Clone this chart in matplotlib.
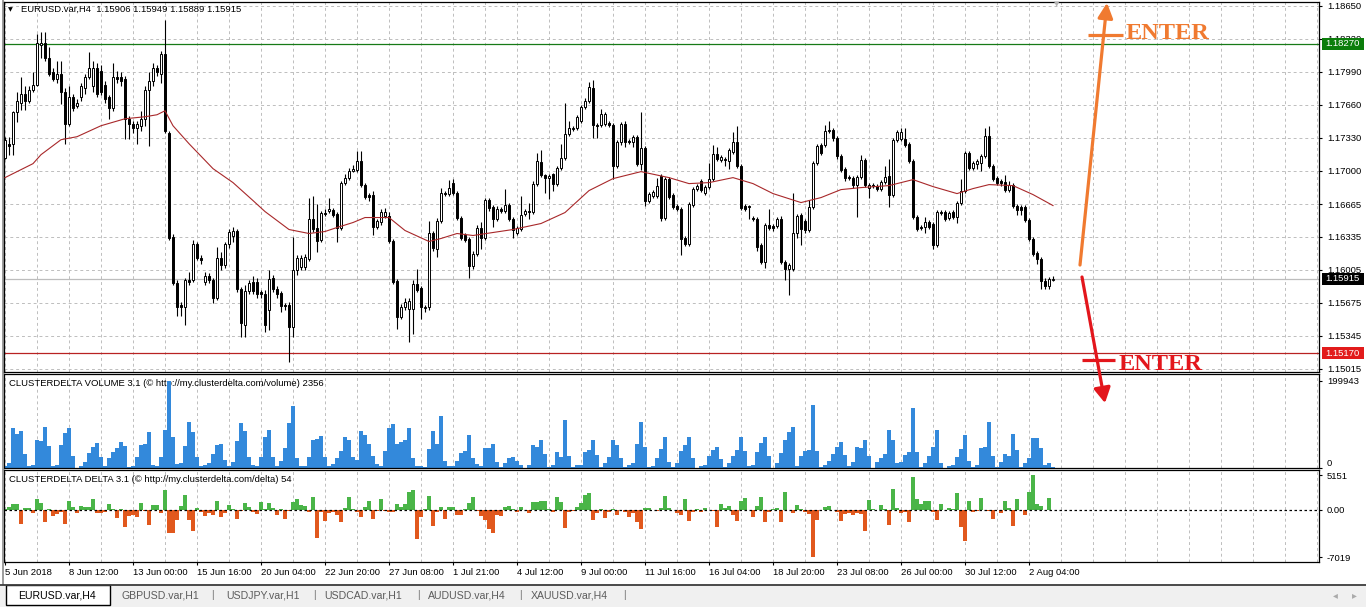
import matplotlib
matplotlib.use("Agg")
import matplotlib.pyplot as plt
from matplotlib.patches import Rectangle
from matplotlib.lines import Line2D
from matplotlib.transforms import blended_transform_factory

W, H = 1366, 607

# EURUSD H4 candles (bar 0 = 5 Jun 2018)
opens = [
    1.1713, 1.1727, 1.1727, 1.1759, 1.1768, 1.1777, 1.1770, 1.1781, 1.1786, 1.1826,
    1.1828, 1.1813, 1.1799, 1.1792, 1.1797, 1.1779, 1.1747, 1.1774, 1.1765, 1.1774,
    1.1783, 1.1794, 1.1785, 1.1803, 1.1800, 1.1786, 1.1774, 1.1763, 1.1794, 1.1794,
    1.1792, 1.1752, 1.1747, 1.1743, 1.1745, 1.1752, 1.1781, 1.1790, 1.1803, 1.1797,
    1.1817, 1.1738, 1.1633, 1.1587, 1.1565, 1.1563, 1.1590, 1.1590, 1.1626, 1.1612,
    1.1588, 1.1594, 1.1590, 1.1572, 1.1612, 1.1605, 1.1626, 1.1634, 1.1640, 1.1581,
    1.1545, 1.1579, 1.1588, 1.1588, 1.1578, 1.1576, 1.1560, 1.1592, 1.1581, 1.1577,
    1.1565, 1.1565, 1.1543, 1.1600, 1.1603, 1.1603, 1.1611, 1.1652, 1.1643, 1.1630,
    1.1658, 1.1660, 1.1661, 1.1657, 1.1643, 1.1688, 1.1693, 1.1700, 1.1701, 1.1710,
    1.1686, 1.1676, 1.1676, 1.1644, 1.1649, 1.1655, 1.1655, 1.1629, 1.1589, 1.1553,
    1.1563, 1.1561, 1.1561, 1.1586, 1.1582, 1.1562, 1.1563, 1.1637, 1.1621, 1.1650,
    1.1678, 1.1677, 1.1688, 1.1678, 1.1653, 1.1635, 1.1631, 1.1604, 1.1616, 1.1643,
    1.1632, 1.1671, 1.1664, 1.1652, 1.1662, 1.1660, 1.1666, 1.1652, 1.1638, 1.1642,
    1.1657, 1.1660, 1.1659, 1.1687, 1.1709, 1.1696, 1.1693, 1.1697, 1.1687, 1.1703,
    1.1713, 1.1737, 1.1742, 1.1743, 1.1750, 1.1764, 1.1770, 1.1783, 1.1746, 1.1746,
    1.1747, 1.1748, 1.1746, 1.1705, 1.1729, 1.1747, 1.1730, 1.1729, 1.1734, 1.1707,
    1.1723, 1.1670, 1.1675, 1.1675, 1.1695, 1.1653, 1.1692, 1.1676, 1.1665, 1.1662,
    1.1632, 1.1626, 1.1666, 1.1682, 1.1690, 1.1678, 1.1684, 1.1692, 1.1717, 1.1711,
    1.1712, 1.1710, 1.1719, 1.1729, 1.1705, 1.1665, 1.1665, 1.1653, 1.1652, 1.1625,
    1.1608, 1.1646, 1.1645, 1.1645, 1.1652, 1.1608, 1.1601, 1.1601, 1.1637, 1.1656,
    1.1650, 1.1641, 1.1664, 1.1708, 1.1726, 1.1726, 1.1740, 1.1741, 1.1733, 1.1715,
    1.1702, 1.1694, 1.1693, 1.1686, 1.1694, 1.1711, 1.1683, 1.1686, 1.1685, 1.1682,
    1.1689, 1.1695, 1.1676, 1.1731, 1.1732, 1.1732, 1.1727, 1.1710, 1.1654, 1.1644,
    1.1644, 1.1649, 1.1647, 1.1625, 1.1659, 1.1659, 1.1653, 1.1659, 1.1654, 1.1668,
    1.1680, 1.1718, 1.1703, 1.1707, 1.1708, 1.1715, 1.1735, 1.1705, 1.1693, 1.1690,
    1.1689, 1.1681, 1.1686, 1.1665, 1.1664, 1.1664, 1.1651, 1.1631, 1.1617, 1.1611,
    1.1589, 1.1584, 1.15906]

highs = [
    1.1734, 1.1734, 1.1760, 1.1779, 1.1794, 1.1785, 1.1785, 1.1799, 1.1837, 1.1839,
    1.1839, 1.1824, 1.1803, 1.1810, 1.1810, 1.1783, 1.1785, 1.1777, 1.1772, 1.1788,
    1.1797, 1.1819, 1.1810, 1.1808, 1.1806, 1.1790, 1.1776, 1.1808, 1.1800, 1.1799,
    1.1795, 1.1755, 1.1750, 1.1750, 1.1760, 1.1785, 1.1799, 1.1808, 1.1806, 1.1820,
    1.1851, 1.1740, 1.1636, 1.1590, 1.1568, 1.1592, 1.1598, 1.1630, 1.1628, 1.1615,
    1.1598, 1.1597, 1.1592, 1.1623, 1.1618, 1.1628, 1.1642, 1.1644, 1.1642, 1.1583,
    1.1585, 1.1590, 1.1594, 1.1592, 1.1580, 1.1580, 1.1600, 1.1595, 1.1584, 1.1579,
    1.1567, 1.1568, 1.1633, 1.1615, 1.1615, 1.1616, 1.1673, 1.1675, 1.1667, 1.1660,
    1.1662, 1.1673, 1.1663, 1.1659, 1.1690, 1.1697, 1.1703, 1.1706, 1.1720, 1.1720,
    1.1688, 1.1678, 1.1680, 1.1652, 1.1662, 1.1663, 1.1659, 1.1631, 1.1591, 1.1566,
    1.1572, 1.1572, 1.1590, 1.1601, 1.1584, 1.1565, 1.1650, 1.1640, 1.1653, 1.1683,
    1.1680, 1.1691, 1.1692, 1.1680, 1.1655, 1.1637, 1.1633, 1.1619, 1.1646, 1.1649,
    1.1673, 1.1673, 1.1666, 1.1665, 1.1664, 1.1682, 1.1668, 1.1654, 1.1645, 1.1675,
    1.1662, 1.1668, 1.1690, 1.1718, 1.1721, 1.1697, 1.1697, 1.1698, 1.1705, 1.1727,
    1.1768, 1.1750, 1.1745, 1.1756, 1.1766, 1.1773, 1.1789, 1.1791, 1.1748, 1.1762,
    1.1759, 1.1750, 1.1748, 1.1731, 1.1749, 1.1750, 1.1732, 1.1736, 1.1736, 1.1759,
    1.1725, 1.1679, 1.1681, 1.1693, 1.1697, 1.1694, 1.1694, 1.1678, 1.1667, 1.1664,
    1.1634, 1.1669, 1.1684, 1.1687, 1.1692, 1.1686, 1.1708, 1.1726, 1.1724, 1.1716,
    1.1714, 1.1723, 1.1739, 1.1745, 1.1707, 1.1667, 1.1666, 1.1655, 1.1654, 1.1627,
    1.1648, 1.1662, 1.1647, 1.1654, 1.1655, 1.1610, 1.1607, 1.1678, 1.1657, 1.1658,
    1.1652, 1.1671, 1.1710, 1.1727, 1.1728, 1.1746, 1.1750, 1.1743, 1.1735, 1.1717,
    1.1704, 1.1696, 1.1695, 1.1696, 1.1716, 1.1713, 1.1688, 1.1688, 1.1687, 1.1691,
    1.1705, 1.1712, 1.1733, 1.1741, 1.1743, 1.1743, 1.1729, 1.1712, 1.1656, 1.1646,
    1.1654, 1.1651, 1.1649, 1.1661, 1.1661, 1.1661, 1.1660, 1.1661, 1.1670, 1.1692,
    1.1720, 1.1720, 1.1710, 1.1712, 1.1717, 1.1743, 1.1745, 1.1707, 1.1695, 1.1692,
    1.1696, 1.1690, 1.1688, 1.1667, 1.1666, 1.1666, 1.1653, 1.1633, 1.1619, 1.1613,
    1.1592, 1.1593, 1.15949]

lows = [
    1.1712, 1.1716, 1.1716, 1.1749, 1.1761, 1.1761, 1.1768, 1.1779, 1.1785, 1.1813,
    1.1810, 1.1795, 1.1790, 1.1788, 1.1767, 1.1727, 1.1745, 1.1760, 1.1763, 1.1770,
    1.1777, 1.1792, 1.1779, 1.1774, 1.1776, 1.1768, 1.1752, 1.1760, 1.1788, 1.1785,
    1.1732, 1.1732, 1.1738, 1.1727, 1.1740, 1.1745, 1.1725, 1.1785, 1.1795, 1.1788,
    1.1738, 1.1630, 1.1585, 1.1554, 1.1554, 1.1545, 1.1585, 1.1588, 1.1610, 1.1606,
    1.1585, 1.1587, 1.1567, 1.1570, 1.1600, 1.1602, 1.1622, 1.1628, 1.1578, 1.1533,
    1.1533, 1.1576, 1.1576, 1.1572, 1.1572, 1.1538, 1.1540, 1.1578, 1.1572, 1.1558,
    1.1560, 1.1508, 1.1533, 1.1595, 1.1600, 1.1600, 1.1609, 1.1639, 1.1618, 1.1628,
    1.1655, 1.1658, 1.1654, 1.1628, 1.1641, 1.1686, 1.1691, 1.1699, 1.1699, 1.1684,
    1.1672, 1.1670, 1.1635, 1.1642, 1.1646, 1.1653, 1.1627, 1.1586, 1.1541, 1.1551,
    1.1560, 1.1528, 1.1536, 1.1578, 1.1551, 1.1558, 1.1560, 1.1619, 1.1613, 1.1648,
    1.1675, 1.1675, 1.1676, 1.1651, 1.1630, 1.1628, 1.1592, 1.1601, 1.1614, 1.1621,
    1.1630, 1.1660, 1.1644, 1.1650, 1.1658, 1.1658, 1.1650, 1.1632, 1.1635, 1.1640,
    1.1655, 1.1652, 1.1657, 1.1685, 1.1694, 1.1678, 1.1672, 1.1680, 1.1685, 1.1701,
    1.1711, 1.1735, 1.1740, 1.1741, 1.1748, 1.1762, 1.1768, 1.1733, 1.1733, 1.1744,
    1.1745, 1.1744, 1.1692, 1.1703, 1.1726, 1.1724, 1.1727, 1.1724, 1.1705, 1.1701,
    1.1665, 1.1668, 1.1673, 1.1673, 1.1650, 1.1651, 1.1672, 1.1662, 1.1660, 1.1615,
    1.1624, 1.1624, 1.1664, 1.1680, 1.1679, 1.1676, 1.1682, 1.1690, 1.1710, 1.1709,
    1.1705, 1.1702, 1.1717, 1.1703, 1.1661, 1.1660, 1.1652, 1.1650, 1.1619, 1.1606,
    1.1602, 1.1641, 1.1640, 1.1643, 1.1606, 1.1590, 1.1575, 1.1599, 1.1632, 1.1625,
    1.1638, 1.1639, 1.1662, 1.1706, 1.1716, 1.1724, 1.1738, 1.1730, 1.1712, 1.1699,
    1.1690, 1.1691, 1.1683, 1.1654, 1.1692, 1.1684, 1.1673, 1.1683, 1.1680, 1.1680,
    1.1687, 1.1664, 1.1674, 1.1729, 1.1730, 1.1724, 1.1708, 1.1652, 1.1640, 1.1641,
    1.1638, 1.1642, 1.1621, 1.1623, 1.1656, 1.1650, 1.1651, 1.1652, 1.1648, 1.1666,
    1.1678, 1.1701, 1.1701, 1.1702, 1.1700, 1.1713, 1.1703, 1.1690, 1.1686, 1.1685,
    1.1679, 1.1679, 1.1663, 1.1656, 1.1656, 1.1649, 1.1629, 1.1614, 1.1606, 1.1581,
    1.1581, 1.1581, 1.15889]

closes = [
    1.1731, 1.1725, 1.1759, 1.1770, 1.1777, 1.1770, 1.1781, 1.1786, 1.1828, 1.1828,
    1.1813, 1.1797, 1.1792, 1.1797, 1.1779, 1.1747, 1.1774, 1.1763, 1.1768, 1.1785,
    1.1794, 1.1803, 1.1803, 1.1777, 1.1779, 1.1772, 1.1763, 1.1794, 1.1792, 1.1790,
    1.1752, 1.1747, 1.1743, 1.1747, 1.1752, 1.1781, 1.1790, 1.1803, 1.1799, 1.1817,
    1.1740, 1.1632, 1.1587, 1.1563, 1.1563, 1.1590, 1.1588, 1.1626, 1.1612, 1.1610,
    1.1594, 1.1590, 1.1572, 1.1612, 1.1605, 1.1626, 1.1639, 1.1640, 1.1581, 1.1547,
    1.1579, 1.1587, 1.1579, 1.1576, 1.1576, 1.1545, 1.1591, 1.1581, 1.1576, 1.1564,
    1.1564, 1.1543, 1.1600, 1.1612, 1.1612, 1.1613, 1.1652, 1.1642, 1.1629, 1.1658,
    1.1657, 1.1662, 1.1656, 1.1643, 1.1688, 1.1693, 1.1700, 1.1702, 1.1710, 1.1686,
    1.1674, 1.1674, 1.1644, 1.1650, 1.1659, 1.1659, 1.1629, 1.1588, 1.1553, 1.1563,
    1.1568, 1.1569, 1.1586, 1.1580, 1.1563, 1.1563, 1.1637, 1.1622, 1.1650, 1.1678,
    1.1677, 1.1683, 1.1678, 1.1653, 1.1632, 1.1630, 1.1604, 1.1616, 1.1643, 1.1632,
    1.1671, 1.1663, 1.1652, 1.1662, 1.1660, 1.1666, 1.1652, 1.1641, 1.1643, 1.1656,
    1.1660, 1.1659, 1.1687, 1.1710, 1.1696, 1.1693, 1.1695, 1.1687, 1.1703, 1.1713,
    1.1737, 1.1743, 1.1743, 1.1754, 1.1764, 1.1770, 1.1784, 1.1746, 1.1745, 1.1757,
    1.1757, 1.1746, 1.1705, 1.1729, 1.1747, 1.1729, 1.1729, 1.1734, 1.1707, 1.1723,
    1.1670, 1.1677, 1.1679, 1.1685, 1.1653, 1.1692, 1.1674, 1.1664, 1.1662, 1.1631,
    1.1626, 1.1667, 1.1682, 1.1685, 1.1681, 1.1684, 1.1692, 1.1717, 1.1712, 1.1714,
    1.1711, 1.1721, 1.1729, 1.1705, 1.1663, 1.1662, 1.1664, 1.1652, 1.1623, 1.1608,
    1.1646, 1.1643, 1.1643, 1.1652, 1.1608, 1.1601, 1.1605, 1.1637, 1.1655, 1.1642,
    1.1641, 1.1664, 1.1708, 1.1725, 1.1718, 1.1740, 1.1741, 1.1733, 1.1715, 1.1701,
    1.1693, 1.1693, 1.1686, 1.1694, 1.1711, 1.1686, 1.1686, 1.1685, 1.1682, 1.1689,
    1.1694, 1.1676, 1.1731, 1.1739, 1.1739, 1.1726, 1.1710, 1.1654, 1.1642, 1.1643,
    1.1649, 1.1644, 1.1625, 1.1659, 1.1658, 1.1652, 1.1658, 1.1654, 1.1668, 1.1680,
    1.1718, 1.1703, 1.1708, 1.1710, 1.1715, 1.1735, 1.1705, 1.1692, 1.1688, 1.1688,
    1.1681, 1.1686, 1.1665, 1.1661, 1.1661, 1.1651, 1.1631, 1.1616, 1.1611, 1.1589,
    1.1584, 1.1591, 1.15915]

# CLUSTERDELTA VOLUME per bar
volumes = [
    5000, 11500, 92000, 77000, 85000, 32000, 4000, 8000, 64000, 62000,
    94000, 50000, 4000, 8000, 52000, 80000, 91000, 27000, 1000, 4000,
    13000, 35000, 48000, 57000, 25000, 4000, 22000, 36000, 45000, 59000,
    50000, 3000, 5000, 25000, 52000, 55000, 82000, 8000, 5000, 25000,
    87000, 199943, 72000, 9000, 11000, 50000, 105000, 82000, 25000, 4000,
    6000, 12000, 31000, 53000, 54000, 19000, 4000, 14000, 62000, 103000,
    85000, 25000, 6000, 4000, 25000, 71000, 87000, 25000, 4000, 15000,
    46000, 102000, 141000, 23000, 4000, 5000, 25000, 64000, 67000, 73000,
    25000, 5000, 9000, 22000, 38000, 71000, 63000, 25000, 18000, 85000,
    75000, 55000, 27000, 9000, 4000, 38000, 91000, 100000, 54000, 59000,
    64000, 92000, 22000, 5000, 4000, 2000, 44000, 85000, 54000, 119000,
    15000, 4000, 4000, 15000, 35000, 40000, 75000, 22000, 9000, 4000,
    46000, 46000, 55000, 14000, 3000, 11000, 24000, 25000, 16000, 7000,
    1000, 8000, 53000, 49000, 63000, 32000, 3000, 8000, 37000, 25000,
    109000, 28000, 3000, 6000, 8000, 36000, 42000, 65000, 30000, 2000,
    11000, 25000, 63000, 53000, 24000, 3000, 8000, 11000, 55000, 105000,
    47000, 3000, 5000, 24000, 43000, 72000, 14000, 3000, 11000, 39000,
    53000, 72000, 22000, 1000, 5000, 6000, 28000, 42000, 49000, 20000,
    3000, 11000, 28000, 42000, 72000, 39000, 5000, 8000, 36000, 57000,
    72000, 28000, 1000, 11000, 34000, 63000, 82000, 93000, 5000, 28000,
    39000, 42000, 144000, 39000, 3000, 8000, 16000, 33000, 47000, 59000,
    30000, 5000, 14000, 49000, 45000, 65000, 28000, 1000, 14000, 24000,
    32000, 88000, 63000, 12000, 14000, 30000, 37000, 137000, 37000, 3000,
    11000, 28000, 47000, 88000, 11000, 1000, 5000, 8000, 26000, 43000,
    76000, 16000, 2000, 8000, 45000, 47000, 105000, 28000, 3000, 14000,
    32000, 28000, 78000, 42000, 2000, 11000, 22000, 68000, 68000, 45000,
    8000, 11000, 2356]

# CLUSTERDELTA DELTA per bar
deltas = [
    200, 500, 900, 950, -2100, 250, 350, -500, 1600, 1000,
    -1800, 150, -900, -600, -250, -2100, 1400, 500, -400, 600,
    400, 400, 1600, -400, -500, -350, 900, 200, -1200, 100,
    -2600, -900, -800, -1000, 1000, -100, -2300, 800, 800, -400,
    3000, -3400, -3500, -1500, 600, 2300, -1500, -3100, 300, -250,
    -900, -500, -800, 1300, -1000, -500, 800, 100, -1300, -100,
    1100, 500, -250, -600, 1250, 150, 1000, 300, -800, 200,
    -1300, -200, 1200, 1600, 800, 600, -300, 2000, -4100, -300,
    -1600, -500, -300, -700, -1800, 300, 1900, 200, -300, -1000,
    400, 1300, -1300, -100, 1700, -200, -300, -300, 900, 500,
    900, 2700, 3000, -4300, -1000, 200, 2100, -2400, -250, 500,
    -1300, 500, 400, -800, -800, 100, 1100, 1900, -200, -900,
    -1500, -2800, -3500, -700, -900, 400, 650, 150, -350, 400,
    50, -500, 1170, 1200, 1300, 1400, 150, -350, 1900, 1170,
    -2700, -250, -150, 400, 1050, 2300, 2550, -1500, -500, 100,
    -1150, -250, 100, -750, 50, -350, -1000, -500, -1800, -2800,
    350, 250, 50, -150, 350, 2100, 350, 50, -500, -750,
    1600, -1700, -250, 100, -250, 250, 50, -150, -2550, 950,
    250, 650, -750, -1650, 1300, 1850, 50, -1000, 650, 2000,
    -1800, -250, 150, 350, -1800, 2750, 50, -500, 800, 150,
    -350, -650, -7019, -1500, 50, 400, 650, 50, -350, -1650,
    -650, -400, -750, -400, -650, -3200, 1500, 150, 50, 800,
    150, -2300, 3200, 350, -400, -250, -1800, 4950, 1600, 950,
    1300, 1300, -250, -1500, 950, 50, 250, 100, 2550, -2550,
    -4600, 1400, -250, -150, 1750, 50, -150, -1400, 50, -500,
    1300, 350, -2400, 1600, 50, -750, 2750, 5151, 950, 650,
    50, 1750, 54]

# moving average (bar index, value)
ma_bars = [0, 7, 9, 14, 18, 24, 30, 35, 38, 40,
           42, 46, 52, 57, 62, 65, 68, 71, 76, 80,
           83, 87, 90, 96, 100, 106, 109, 113, 117, 122,
           127, 134, 140, 146, 152, 159, 166, 171, 176, 182,
           187, 192, 199, 204, 209, 214, 221, 227, 232, 238,
           242, 246, 252, 257, 262]
ma_vals = [1.1693, 1.1707, 1.1716, 1.1731, 1.1734, 1.1745, 1.1752, 1.1754, 1.1756, 1.1760,
           1.1745, 1.1727, 1.1702, 1.1688, 1.1670, 1.1659, 1.1650, 1.1641, 1.1637, 1.1639,
           1.1643, 1.1648, 1.1653, 1.1653, 1.1640, 1.1629, 1.1632, 1.1637, 1.1635, 1.1638,
           1.1641, 1.1647, 1.1658, 1.1680, 1.1692, 1.1699, 1.1693, 1.1687, 1.1688, 1.1693,
           1.1687, 1.1677, 1.1668, 1.1673, 1.1681, 1.1683, 1.1685, 1.1691, 1.1684, 1.1677,
           1.1682, 1.1686, 1.1685, 1.1676, 1.1665]

price_ticks = [1.18650, 1.18320, 1.17990, 1.17660, 1.17330, 1.17000,
               1.16665, 1.16335, 1.16005, 1.15675, 1.15345, 1.15015]
time_bars = [0, 16, 32, 48, 64, 80, 96, 112, 128, 144, 160, 176, 192, 208, 224, 240, 256]
time_labels = ["5 Jun 2018", "8 Jun 12:00", "13 Jun 00:00", "15 Jun 16:00", "20 Jun 04:00",
               "22 Jun 20:00", "27 Jun 08:00", "1 Jul 21:00", "4 Jul 12:00", "9 Jul 00:00",
               "11 Jul 16:00", "16 Jul 04:00", "18 Jul 20:00", "23 Jul 08:00", "26 Jul 00:00",
               "30 Jul 12:00", "2 Aug 04:00"]
upper_level = 1.18270
lower_level = 1.15170
bid = 1.15915
tabs = ["EURUSD.var,H4", "GBPUSD.var,H1", "USDJPY.var,H1", "USDCAD.var,H1",
        "AUDUSD.var,H4", "XAUUSD.var,H4"]

assert len(opens) == len(highs) == len(lows) == len(closes) == len(volumes) == len(deltas)

plt.rcParams['font.family'] = ['Liberation Sans', 'DejaVu Sans']
FS = 6.8
GRID = dict(color='#bdbdbd', linestyle=(0, (3, 3)), linewidth=0.7)

fig = plt.figure(figsize=(W / 100, H / 100), dpi=100)
fig.patch.set_facecolor('white')


def fx(x):
    return x / W


def fy(y):
    return 1 - y / H


def px_axes(x0, y0, x1, y1):
    return fig.add_axes([x0 / W, 1 - y1 / H, (x1 - x0) / W, (y1 - y0) / H])


ax = px_axes(4, 2, 1319, 372)
axv = px_axes(4, 374, 1319, 468)
axd = px_axes(4, 470, 1319, 562)
ax.set_zorder(3)

for a in (ax, axv, axd):
    a.set_xlim(-0.25, 328.5)
    a.set_xticks(range(0, 329, 8), minor=True)
    a.grid(True, which='both', axis='x', **GRID)
    a.set_axisbelow(True)
    a.tick_params(axis='x', which='minor', length=0)
    for s in a.spines.values():
        s.set_linewidth(0.9)
        s.set_color('black')
    a.yaxis.tick_right()
    a.tick_params(axis='y', direction='out', length=2.2, width=0.8, pad=3.5,
                  labelsize=FS, right=True, left=False, labelright=True, labelleft=False)

for a in (ax, axv):
    a.set_xticks([])

idx = list(range(len(closes)))

# ---- main price panel ----
ax.set_ylim(1.14982, 1.18690)
ax.set_yticks(price_ticks)
ax.set_yticklabels([f"{t:.5f}" for t in price_ticks])
ax.grid(True, axis='y', **GRID)

ax.axhline(upper_level, color='#177a17', lw=0.9, zorder=2)
ax.axhline(lower_level, color='#b82222', lw=0.9, zorder=2)
ax.axhline(bid, color='#bdbdbd', lw=0.9, zorder=2)

ax.vlines(idx, lows, highs, color='black', linewidth=0.8, zorder=3)
body_bottom = [min(o, c) for o, c in zip(opens, closes)]
body_height = [abs(c - o) for o, c in zip(opens, closes)]
body_color = ['white' if c >= o else 'black' for o, c in zip(opens, closes)]
ax.bar(idx, body_height, bottom=body_bottom, width=0.58, color=body_color,
       edgecolor='black', linewidth=0.7, zorder=4)

ax.plot(ma_bars, ma_vals, color='#a8282a', lw=0.8, zorder=5)

ax.text(0.0126, 0.98, "EURUSD.var,H4  1.15906 1.15949 1.15889 1.15915",
        transform=ax.transAxes, fontsize=FS, va='center', ha='left', zorder=6)
ax.text(0.0032, 0.979, "\u25BC", transform=ax.transAxes, fontsize=4.5,
        family='DejaVu Sans', va='center', ha='left', zorder=6)

# price boxes on the right scale
trans = blended_transform_factory(ax.transAxes, ax.transData)
for price, colour in ((upper_level, '#0b7d0b'), (bid, '#000000'), (lower_level, '#e21b1b')):
    ax.add_patch(Rectangle((1.0023, price - 0.00058), 42 / 1315, 0.00116, transform=trans,
                           facecolor=colour, edgecolor='none', clip_on=False, zorder=10))
    ax.text(1.0047, price, f"{price:.5f}", transform=trans, ha='left', va='center',
            fontsize=FS, color='white', clip_on=False, zorder=11)

# hand-drawn trade arrows
orange = '#f07a30'
red = '#e3161c'
ax.annotate('', xy=(275.5, 1.18682), xytext=(268.75, 1.16054),
            arrowprops=dict(arrowstyle='-|>,head_length=0.9,head_width=0.45', color=orange,
                            lw=2.3, shrinkA=0, shrinkB=0, mutation_scale=10),
            annotation_clip=False, zorder=8)
ax.plot([270.75, 279.5], [1.18359, 1.18359], color=orange, lw=2.3, clip_on=False, zorder=8,
        solid_capstyle='butt')
ax.text(280.25, 1.18379, "ENTER", color=orange, fontsize=17.5, fontweight='bold',
        family='Liberation Serif', ha='left', va='center', clip_on=False, zorder=8)

ax.annotate('', xy=(275.0, 1.14671), xytext=(269.25, 1.15934),
            arrowprops=dict(arrowstyle='-|>,head_length=0.9,head_width=0.5', color=red,
                            lw=2.3, shrinkA=0, shrinkB=0, mutation_scale=10),
            annotation_clip=False, zorder=8)
ax.plot([269.25, 277.5], [1.15102, 1.15102], color=red, lw=2.3, clip_on=False, zorder=8,
        solid_capstyle='butt')
ax.text(278.5, 1.15062, "ENTER", color=red, fontsize=17.5, fontweight='bold',
        family='Liberation Serif', ha='left', va='center', clip_on=False, zorder=8)

# ---- volume panel ----
axv.set_ylim(0, 215000)
axv.bar(idx, volumes, width=0.76, color='#3389db', linewidth=0, zorder=2)
axv.set_yticks([0, 199943])
axv.set_yticklabels(['0', '199943'])
axv.get_yticklabels()[0].set_va('bottom')
axv.text(0.004, 0.9, "CLUSTERDELTA VOLUME 3.1 (\u00A9 http://my.clusterdelta.com/volume) 2356",
         transform=axv.transAxes, fontsize=FS, va='center', ha='left', zorder=1)

# ---- delta panel ----
axd.set_ylim(-7750, 5960)
axd.bar(idx, deltas, width=0.76, linewidth=0, zorder=2,
        color=['#4ab548' if d >= 0 else '#e1581d' for d in deltas])
axd.axhline(0, color='black', lw=0.9, linestyle=(0, (2, 2)), zorder=3)
axd.set_yticks([-7019, 0, 5151])
axd.set_yticklabels(['-7019', '0.00', '5151'])
axd.text(0.004, 0.9, "CLUSTERDELTA DELTA 3.1 (\u00A9 http://my.clusterdelta.com/delta) 54",
         transform=axd.transAxes, fontsize=FS, va='center', ha='left', zorder=1)

axd.set_xticks(time_bars)
axd.set_xticklabels(time_labels, fontsize=FS)
for lbl in axd.get_xticklabels():
    lbl.set_ha('left')
axd.tick_params(axis='x', which='major', direction='out', length=2.5, width=0.8, pad=1.5)

# ---- window chrome ----
fig.add_artist(Line2D([fx(2.5), fx(2.5)], [fy(0), fy(584)], color='#8a8a8a', lw=1.2))
fig.add_artist(Rectangle((0, 0), 1, fy(584.5), transform=fig.transFigure,
                         facecolor='#f0f0f0', edgecolor='none'))
fig.add_artist(Line2D([0, 1], [fy(584.5), fy(584.5)], color='#3c3c3c', lw=1.3))
fig.add_artist(Rectangle((fx(6), fy(605)), 104 / W, 20 / H, transform=fig.transFigure,
                         facecolor='white', edgecolor='black', lw=1))
fig.text(fx(18), fy(595), tabs[0], fontsize=7.6, color='black', va='center', ha='left')
tab_x = [122, 226, 324, 428, 531]
sep_x = [213, 315, 418, 520, 625]
for name, x in zip(tabs[1:], tab_x):
    fig.text(fx(x), fy(595), name, fontsize=7.6, color='#5c5c5c', va='center', ha='left')
for x in sep_x:
    fig.text(fx(x), fy(595), "|", fontsize=7.6, color='#7a7a7a', va='center', ha='center')
fig.text(fx(1335), fy(595), "\u25C2", fontsize=7, color='#aaaaaa', va='center', ha='center',
         family='DejaVu Sans')
fig.text(fx(1354), fy(595), "\u25B8", fontsize=7, color='#aaaaaa', va='center', ha='center',
         family='DejaVu Sans')
fig.text(fx(1057), fy(4), "\u25BC", fontsize=5, color='#b4b4b4', va='center', ha='center',
         family='DejaVu Sans')

fig.savefig("out.png", dpi=100, facecolor='white')
